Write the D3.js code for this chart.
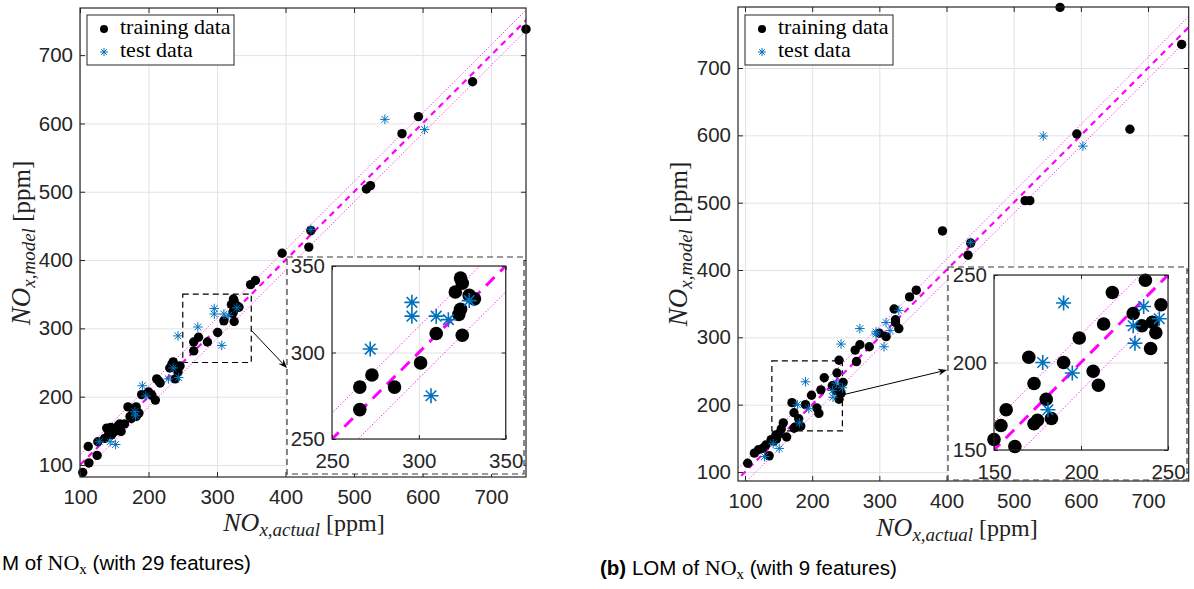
<!DOCTYPE html>
<html><head><meta charset="utf-8">
<script src="https://cdn.jsdelivr.net/npm/d3@7"></script>
<style>body{margin:0;background:#fff}</style>
</head><body><svg id="c" width="1194" height="589"></svg>
<script>
// ---------- data ----------
const mainTicks = [100, 200, 300, 400, 500, 600, 700];
const insetTicksA = [250, 300, 350];
const insetTicksB = [150, 200, 250];

// (a) 29 features
const trainA = [
  [104, 89], [113, 103], [125, 114], [112, 127], [126, 134], [136, 139], [139, 154], [146, 144],
  [151, 149], [156, 158], [160, 149], [158, 160], [145, 155], [150, 152], [165, 160], [142, 146],
  [170, 185], [182, 185], [173, 171], [182, 171], [177, 175], [186, 176], [175, 168],
  [190, 203], [200, 207], [205, 202], [210, 195], [212, 226], [217, 220], [215, 223],
  [231, 242], [236, 251], [239, 226], [243, 236], [246, 245], [234, 247], [266, 267], [266, 280], [273, 287],
  [286, 280], [301, 294], [310, 311], [325, 310], [323, 322], [324, 325], [321, 335], [325, 340],
  [329, 333], [332, 331], [324, 343], [349, 364], [356, 370], [395, 410], [434, 419], [437, 443],
  [518, 504], [524, 509], [570, 585], [594, 610], [673, 661], [751, 738]
];
const testA = [
  [128, 134], [144, 134], [152, 130], [180, 178], [181, 172], [191, 216], [196, 201], [229, 226],
  [236, 242], [244, 228], [243, 289], [272, 302], [296, 329], [296, 321], [310, 321], [317, 319],
  [329, 330], [307, 275], [437, 445], [545, 606], [603, 591]
];
// (b) 9 features
const trainB = [
  [104, 113], [114, 128], [126, 135], [136, 124], [139, 148], [146, 155],
  [120, 133], [131, 140], [143, 146], [147, 149],
  [150, 156], [154, 164], [157, 173], [162, 152], [170, 203], [173, 188], [173, 165], [175, 167],
  [180, 179], [183, 168], [190, 200], [199, 214], [207, 195], [210, 187], [213, 222], [218, 240],
  [230, 228], [237, 247], [246, 233], [241, 223], [235, 221], [243, 217], [240, 208], [240, 266],
  [264, 281], [271, 289], [266, 264], [285, 286], [300, 306], [310, 301], [324, 326], [324, 322],
  [329, 313], [322, 342], [345, 360], [355, 370], [394, 458], [436, 440], [432, 422], [517, 503],
  [524, 503], [569, 790], [594, 602], [673, 609], [750, 735]
];
const testB = [
  [129, 123], [142, 142], [151, 135], [178, 200], [181, 173], [190, 234], [195, 194], [230, 221],
  [236, 232], [231, 211], [245, 225], [243, 290], [271, 313], [295, 308], [295, 305], [307, 286],
  [310, 322], [316, 310], [329, 340], [436, 441], [544, 599], [603, 584]
];
const bandA = 15, bandB = 16;            // tolerance band (ppm) of dotted lines
const zoomWinA = [[250, 350], [250, 350]]; // zoomed region (x, y)
const zoomWinB = [[140, 245], [161, 265]];

// ---------- drawing ----------
const svg = d3.select('#c');
const AX = '#262626', GRID = '#e2e2e2', MAG = '#ff00ff', BLUE = '#0072bd';
const TICKFONT = 'Liberation Sans, Arial, Helvetica, sans-serif';
const SERIF = 'Liberation Serif, Times New Roman, serif';
let clipN = 0;

function starPath(s) {
  const d = s * 0.7071;
  return `M${-s},0H${s}M0,${-s}V${s}M${-d},${-d}L${d},${d}M${-d},${d}L${d},${-d}`;
}

function axesFrame(g, x, y, box, ticks) {
  const W = box.r - box.l, H = box.b - box.t;
  g.append('g').attr('transform', `translate(0,${box.b})`)
    .call(d3.axisBottom(x).tickValues(ticks).tickSize(-H).tickFormat(''))
    .call(s => { s.select('.domain').remove(); s.selectAll('line').attr('stroke', GRID).attr('stroke-width', 1); });
  g.append('g').attr('transform', `translate(${box.l},0)`)
    .call(d3.axisLeft(y).tickValues(ticks).tickSize(-W).tickFormat(''))
    .call(s => { s.select('.domain').remove(); s.selectAll('line').attr('stroke', GRID).attr('stroke-width', 1); });
}

function axesTicks(g, x, y, box, ticks, o) {
  const tl = o.tickLen;
  const style = s => {
    s.select('.domain').remove();
    s.selectAll('line').attr('stroke', AX).attr('stroke-width', 1);
    s.selectAll('text').attr('fill', AX).attr('font-family', TICKFONT).attr('font-size', o.fs);
  };
  g.append('g').attr('transform', `translate(0,${box.b})`)
    .call(d3.axisBottom(x).tickValues(ticks).tickSize(-tl).tickPadding(o.padX)).call(style);
  g.append('g').attr('transform', `translate(0,${box.t})`)
    .call(d3.axisTop(x).tickValues(ticks).tickSize(-tl).tickFormat('')).call(style);
  g.append('g').attr('transform', `translate(${box.l},0)`)
    .call(d3.axisLeft(y).tickValues(ticks).tickSize(-tl).tickPadding(o.padY)).call(style);
  g.append('g').attr('transform', `translate(${box.r},0)`)
    .call(d3.axisRight(y).tickValues(ticks).tickSize(-tl).tickFormat('')).call(style);
  g.append('rect').attr('x', box.l).attr('y', box.t).attr('width', box.r - box.l).attr('height', box.b - box.t)
    .attr('fill', 'none').attr('stroke', AX).attr('stroke-width', 1.2);
}

function dataLayer(g, x, y, box, train, test, band, st) {
  const id = 'clip' + (clipN++);
  g.append('clipPath').attr('id', id).append('rect')
    .attr('x', box.l).attr('y', box.t).attr('width', box.r - box.l).attr('height', box.b - box.t);
  const lg = g.append('g').attr('clip-path', `url(#${id})`);
  const [x0, x1] = x.domain();
  const lo = Math.min(x0, y.domain()[0]) - 50, hi = Math.max(x1, y.domain()[1]) + 50;
  const line = (off, dash, w) => lg.append('line')
    .attr('x1', x(lo)).attr('y1', y(lo + off)).attr('x2', x(hi)).attr('y2', y(hi + off))
    .attr('stroke', MAG).attr('stroke-width', w).attr('stroke-dasharray', dash);
  line(band, st.dot, 1);
  line(-band, st.dot, 1);
  line(0, st.dash, st.dashW);
  const inDom = d => d[0] >= x.domain()[0] && d[0] <= x.domain()[1] && d[1] >= y.domain()[0] && d[1] <= y.domain()[1];
  g.append('g').selectAll('circle').data(train.filter(inDom)).join('circle')
    .attr('cx', d => x(d[0])).attr('cy', d => y(d[1])).attr('r', st.r).attr('fill', '#000');
  g.append('g').selectAll('path').data(test.filter(inDom)).join('path')
    .attr('transform', d => `translate(${x(d[0])},${y(d[1])})`)
    .attr('d', starPath(st.s)).attr('stroke', BLUE).attr('stroke-width', st.sw).attr('fill', 'none');
}

function panel(c) {
  const g = svg.append('g');
  const x = d3.scaleLinear().domain(c.xDomain).range([c.box.l, c.box.r]);
  const y = d3.scaleLinear().domain(c.yDomain).range([c.box.b, c.box.t]);
  axesFrame(g, x, y, c.box, mainTicks);
  g.append('rect').attr('x', x(c.zoomWin[0][0])).attr('y', y(c.zoomWin[1][1]))
    .attr('width', x(c.zoomWin[0][1]) - x(c.zoomWin[0][0])).attr('height', y(c.zoomWin[1][0]) - y(c.zoomWin[1][1]))
    .attr('fill', 'none').attr('stroke', '#000').attr('stroke-width', 1.2).attr('stroke-dasharray', '6,4');
  dataLayer(g, x, y, c.box, c.train, c.test, c.band,
    { r: 4.7, s: 4.8, sw: 1, dot: '1,2', dash: '6,5', dashW: 2.2 });
  axesTicks(g, x, y, c.box, mainTicks, { tickLen: 5, fs: 20.5, padX: 12, padY: 7 });

  // legend
  const L = c.legend;
  g.append('rect').attr('x', L.l).attr('y', L.t).attr('width', L.w).attr('height', L.h)
    .attr('fill', '#fff').attr('stroke', AX).attr('stroke-width', 1);
  g.append('circle').attr('cx', L.l + 17).attr('cy', L.t + 14).attr('r', 4).attr('fill', '#000');
  g.append('path').attr('transform', `translate(${L.l + 17},${L.t + 37})`).attr('d', starPath(4))
    .attr('stroke', BLUE).attr('stroke-width', 1).attr('fill', 'none');
  g.append('text').attr('x', L.l + 33).attr('y', L.t + 19).text('training data')
    .attr('font-family', SERIF).attr('font-size', 22).attr('fill', '#000');
  g.append('text').attr('x', L.l + 33).attr('y', L.t + 42).text('test data')
    .attr('font-family', SERIF).attr('font-size', 22).attr('fill', '#000');

  // inset
  const O = c.outer;
  g.append('rect').attr('x', O.l).attr('y', O.t).attr('width', O.r - O.l).attr('height', O.b - O.t)
    .attr('fill', '#fff').attr('stroke', '#3a3a3a').attr('stroke-width', 1.2).attr('stroke-dasharray', '6,4');
  const ix = d3.scaleLinear().domain(c.inDomain).range([c.inBox.l, c.inBox.r]);
  const iy = d3.scaleLinear().domain(c.inDomain).range([c.inBox.b, c.inBox.t]);
  const ig = g.append('g');
  ig.append('rect').attr('x', c.inBox.l).attr('y', c.inBox.t).attr('width', c.inBox.r - c.inBox.l)
    .attr('height', c.inBox.b - c.inBox.t).attr('fill', '#fff');
  axesFrame(ig, ix, iy, c.inBox, c.inTicks);
  dataLayer(ig, ix, iy, c.inBox, c.train, c.test, c.band,
    { r: 6.8, s: 7.5, sw: 1.6, dot: '1.2,2', dash: '12,8', dashW: 3 });
  axesTicks(ig, ix, iy, c.inBox, c.inTicks, { tickLen: 4, fs: 20.5, padX: 14, padY: 7 });

  // arrow
  const A = c.arrow;
  const ang = Math.atan2(A[3] - A[1], A[2] - A[0]);
  g.append('line').attr('x1', A[0]).attr('y1', A[1]).attr('x2', A[2] - 6 * Math.cos(ang)).attr('y2', A[3] - 6 * Math.sin(ang))
    .attr('stroke', '#000').attr('stroke-width', 1);
  const hl = 9, hw = 3.5;
  const bx = A[2] - hl * Math.cos(ang), by = A[3] - hl * Math.sin(ang);
  g.append('path').attr('d', `M${A[2]},${A[3]}L${bx - hw * Math.sin(ang)},${by + hw * Math.cos(ang)}L${A[2] - 6 * Math.cos(ang)},${A[3] - 6 * Math.sin(ang)}L${bx + hw * Math.sin(ang)},${by - hw * Math.cos(ang)}Z`)
    .attr('fill', '#000');

  // axis labels
  const xl = g.append('text').attr('x', c.xLab[0]).attr('y', c.xLab[1]).attr('text-anchor', 'middle')
    .attr('font-family', SERIF).attr('fill', '#222');
  xl.append('tspan').attr('font-style', 'italic').attr('font-size', 26).text('NO');
  xl.append('tspan').attr('font-style', 'italic').attr('font-size', 19).attr('dy', 5).text('x,actual');
  xl.append('tspan').attr('font-size', 24).attr('dy', -5).text(' [ppm]');
  const yl = g.append('text').attr('transform', `translate(${c.yLab[0]},${c.yLab[1]}) rotate(-90)`)
    .attr('text-anchor', 'middle').attr('font-family', SERIF).attr('fill', '#222');
  yl.append('tspan').attr('font-style', 'italic').attr('font-size', 27).text('NO');
  yl.append('tspan').attr('font-style', 'italic').attr('font-size', 19).attr('dy', 5).text('x,model');
  yl.append('tspan').attr('font-size', 25).attr('dy', -5).text(' [ppm]');
}

panel({
  xDomain: [100, 751], yDomain: [82.4, 769],
  box: { l: 80, r: 526, t: 8, b: 477 },
  train: trainA, test: testA, band: bandA, zoomWin: zoomWinA,
  legend: { l: 87, t: 15, w: 147, h: 50 },
  outer: { l: 287, t: 257, r: 524, b: 474 },
  inBox: { l: 332, t: 266, r: 505.7, b: 439 }, inDomain: [250, 350], inTicks: insetTicksA,
  arrow: [251, 330, 287, 368],
  xLab: [304, 531], yLab: [30, 243]
});
panel({
  xDomain: [89.6, 760.5], yDomain: [86.6, 790.6],
  box: { l: 738, r: 1188.7, t: 7, b: 481 },
  train: trainB, test: testB, band: bandB, zoomWin: zoomWinB,
  legend: { l: 745, t: 15, w: 148, h: 50 },
  outer: { l: 948, t: 267, r: 1187, b: 480 },
  inBox: { l: 994, t: 275, r: 1168, b: 450 }, inDomain: [150, 250], inTicks: insetTicksB,
  arrow: [842, 395, 947, 370],
  xLab: [957, 536], yLab: [687, 244]
});

// captions
function caption(xp, yp, pre, bold, post) {
  const t = svg.append('text').attr('x', xp).attr('y', yp).attr('font-family', TICKFONT)
    .attr('font-size', 20.5).attr('fill', '#000');
  if (bold) t.append('tspan').attr('font-weight', 'bold').text(bold);
  t.append('tspan').text(pre);
  t.append('tspan').attr('font-family', SERIF).attr('font-size', 22).text('NO');
  t.append('tspan').attr('font-family', SERIF).attr('font-size', 15).attr('dy', 4).text('x');
  t.append('tspan').attr('dy', -4).text(post);
}
caption(2, 570, 'M of ', null, ' (with 29 features)');
caption(600, 575, ' LOM of ', '(b)', ' (with 9 features)');
</script></body></html>
